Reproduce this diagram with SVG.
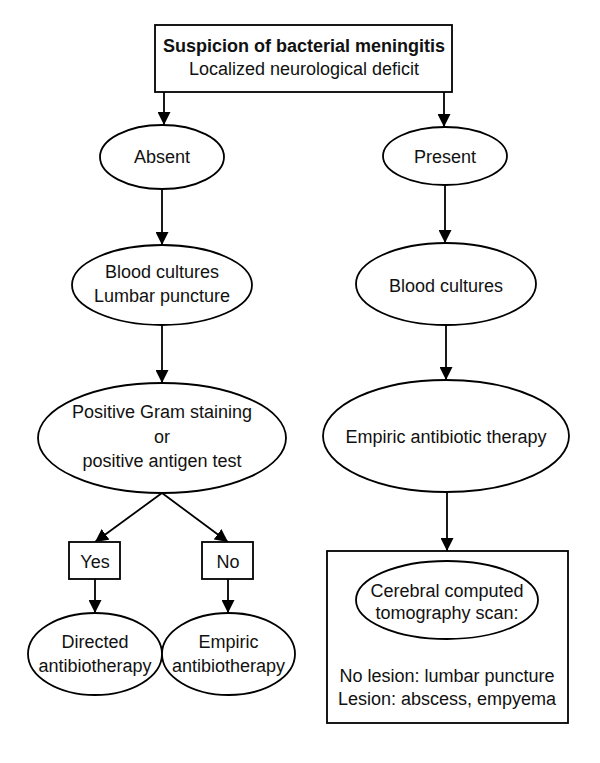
<svg xmlns="http://www.w3.org/2000/svg" width="600" height="763" viewBox="0 0 600 763">
<defs>
<marker id="arr" markerUnits="userSpaceOnUse" markerWidth="13" markerHeight="13" refX="13" refY="6.5" orient="auto">
<path d="M0,0 L13,6.5 L0,13 z" fill="#000"/>
</marker>
</defs>
<style>
.s{fill:#fff;stroke:#000;stroke-width:1.8}
.t{font-family:"Liberation Sans",Arial,sans-serif;font-size:18px;fill:#111;text-anchor:middle}
.b{font-weight:bold}
.c{stroke:#000;stroke-width:1.8;fill:none;marker-end:url(#arr)}
</style>
<rect width="600" height="763" fill="#fff"/>
<g id="connectors">
<line class="c" x1="164" y1="92" x2="164" y2="125"/>
<line class="c" x1="444" y1="92" x2="444" y2="127"/>
<line class="c" x1="162" y1="189" x2="162" y2="245"/>
<line class="c" x1="445" y1="185" x2="445" y2="243"/>
<line class="c" x1="162" y1="325" x2="162" y2="383"/>
<line class="c" x1="446" y1="325" x2="446" y2="380"/>
<line class="c" x1="447" y1="492" x2="447" y2="551"/>
<line class="c" x1="162" y1="493" x2="95" y2="542"/>
<line class="c" x1="162" y1="493" x2="228" y2="542"/>
<line class="c" x1="95" y1="579" x2="95" y2="613"/>
<line class="c" x1="228" y1="579" x2="228" y2="613"/>
</g>
<g id="top">
<rect class="s" x="155" y="25" width="297" height="67"/>
<text class="t b" x="304" y="52">Suspicion of bacterial meningitis</text>
<text class="t" x="304" y="75">Localized neurological deficit</text>
</g>
<g id="absent">
<ellipse class="s" cx="162" cy="157" rx="62" ry="32"/>
<text class="t" x="162" y="163">Absent</text>
</g>
<g id="present">
<ellipse class="s" cx="445" cy="156" rx="62" ry="29"/>
<text class="t" x="445" y="163">Present</text>
</g>
<g id="bc-lp">
<ellipse class="s" cx="162" cy="285" rx="90" ry="40"/>
<text class="t" x="162" y="278">Blood cultures</text>
<text class="t" x="162" y="302">Lumbar puncture</text>
</g>
<g id="bc">
<ellipse class="s" cx="446" cy="284" rx="90" ry="41"/>
<text class="t" x="446" y="292">Blood cultures</text>
</g>
<g id="gram">
<ellipse class="s" cx="162" cy="438" rx="124" ry="55"/>
<text class="t" x="162" y="418">Positive Gram staining</text>
<text class="t" x="162" y="443">or</text>
<text class="t" x="162" y="467">positive antigen test</text>
</g>
<g id="empiric-therapy">
<ellipse class="s" cx="446" cy="436" rx="123" ry="56"/>
<text class="t" x="446" y="443">Empiric antibiotic therapy</text>
</g>
<g id="yes">
<rect class="s" x="69" y="542" width="51" height="37"/>
<text class="t" x="95" y="568">Yes</text>
</g>
<g id="no">
<rect class="s" x="202" y="542" width="51" height="37"/>
<text class="t" x="228" y="568">No</text>
</g>
<g id="directed">
<ellipse class="s" cx="95" cy="654" rx="67" ry="41"/>
<text class="t" x="95" y="648">Directed</text>
<text class="t" x="95" y="672">antibiotherapy</text>
</g>
<g id="empiric">
<ellipse class="s" cx="228.5" cy="654" rx="66.5" ry="41"/>
<text class="t" x="228.5" y="648">Empiric</text>
<text class="t" x="228.5" y="672">antibiotherapy</text>
</g>
<g id="ct-box">
<rect class="s" x="327" y="551" width="241" height="172"/>
<ellipse class="s" cx="447" cy="600" rx="91" ry="39"/>
<text class="t" x="447" y="597">Cerebral computed</text>
<text class="t" x="447" y="619">tomography scan:</text>
<text class="t" x="447" y="682">No lesion: lumbar puncture</text>
<text class="t" x="447" y="705">Lesion: abscess, empyema</text>
</g>
</svg>
